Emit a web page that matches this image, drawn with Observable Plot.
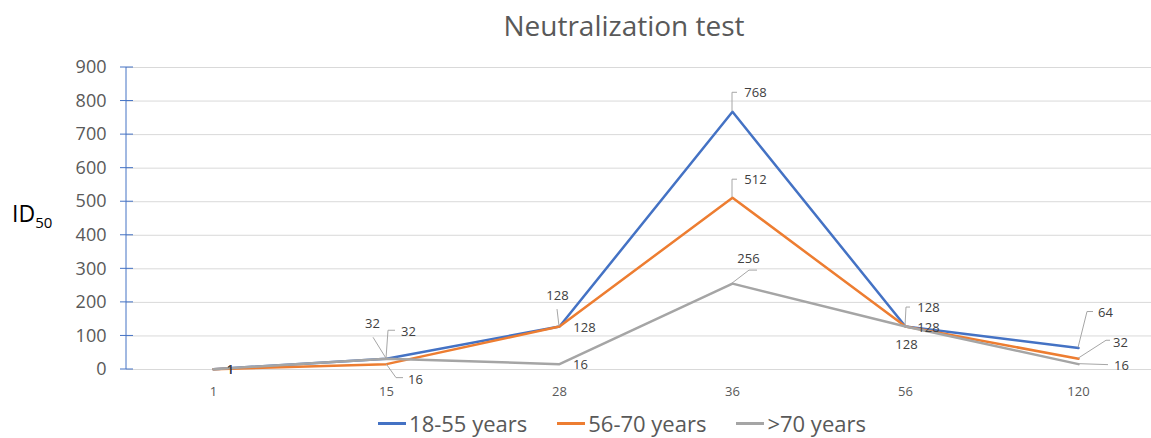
<!DOCTYPE html>
<html><head><meta charset="utf-8">
<script src="https://cdn.jsdelivr.net/npm/d3@7"></script>
<script src="https://cdn.jsdelivr.net/npm/@observablehq/plot@0.6"></script>
<style>
body{margin:0;background:#fff;font-family:"Open Sans",sans-serif;}
#wrap{position:relative;width:1151px;height:438px;overflow:hidden;background:#fff;}
#title{position:absolute;top:7px;left:0;width:1248px;text-align:center;font-size:28px;color:#595959;line-height:36px;z-index:2;}
#ylab{position:absolute;left:12px;top:199px;font-size:23px;color:#000;line-height:28px;z-index:2;}
#ylab sub{font-size:15px;vertical-align:-6px;line-height:0;}
#chart{position:absolute;top:50px;left:0;z-index:1;}
#legend{position:absolute;top:410px;left:0;width:1244px;display:flex;justify-content:center;gap:30px;font-size:22px;color:#595959;line-height:26px;z-index:2;}
#legend .item{display:flex;align-items:center;}
#legend .sw{display:inline-block;width:28px;height:3px;margin-right:3px;}
</style></head><body>
<div id="wrap">
  <div id="title">Neutralization test</div>
  <div id="ylab">ID<sub>50</sub></div>
  <div id="chart"></div>
  <div id="legend"></div>
</div>
<script>
// ---- data ----
const days = ["1", "15", "28", "36", "56", "120"];
const seriesNames = ["18-55 years", "56-70 years", ">70 years"];
const age18to55 = [1, 32, 128, 768, 128, 64];
const age56to70 = [1, 16, 128, 512, 128, 32];
const ageOver70 = [1, 32, 16, 256, 128, 16];
const yTicks = [0, 100, 200, 300, 400, 500, 600, 700, 800, 900];

// ---- styles ----
const seriesColors = ["#4472C4", "#ED7D31", "#A5A5A5"];
// pixel offsets of the data labels from their points, and leader lines (style only)
const labelPlacement = [
  [ {dx:17,dy:1}, {dx:-14,dy:-35,lead:[[0,0],[-13,-21]]}, {dx:-2,dy:-31,lead:[[0,0],[-2,-17]]},
    {dx:23,dy:-19,lead:[[0,0],[0,-19],[5,-19]]}, {dx:23,dy:-19,lead:[[0,0],[1,-19],[5,-19]]},
    {dx:27,dy:-35,lead:[[0,0],[9,-36],[15,-36]]} ],
  [ {dx:17,dy:1}, {dx:29,dy:16,lead:[[0,0],[10,14],[17,14]]}, {dx:25,dy:1},
    {dx:23,dy:-18,lead:[[0,0],[0,-18],[5,-18]]}, {dx:23,dy:1},
    {dx:42,dy:-16,lead:[[0,0],[28,-18],[32,-18]]} ],
  [ {dx:17,dy:1}, {dx:22,dy:-27,lead:[[0,0],[2,-28],[9,-28]]}, {dx:21,dy:1},
    {dx:16,dy:-25,lead:[[0,0],[17,-13],[25,-13]]}, {dx:1,dy:18},
    {dx:43,dy:2,lead:[[0,0],[30,1]]} ]
];

const seriesValues = [age18to55, age56to70, ageOver70];
const rows = seriesNames.flatMap((s, i) => days.map((d, j) => ({
  series: s, day: d, value: seriesValues[i][j], place: labelPlacement[i][j]
})));

function axisLine(index, scales, values, dims) {
  const {marginLeft, marginTop, height, marginBottom} = dims;
  const g = d3.create("svg:g").attr("stroke", "#4472C4").attr("stroke-width", 1);
  g.append("line").attr("x1", marginLeft).attr("x2", marginLeft)
    .attr("y1", marginTop).attr("y2", height - marginBottom);
  for (const t of yTicks) {
    const y = scales.y(t);
    g.append("line").attr("x1", marginLeft - 6).attr("x2", marginLeft + 7).attr("y1", y).attr("y2", y);
  }
  return g.node();
}

function leaders(index, scales) {
  const g = d3.create("svg:g").attr("fill", "none").attr("stroke", "#A6A6A6").attr("stroke-width", 1);
  for (const r of rows) {
    if (!r.place.lead) continue;
    const px = scales.x(r.day), py = scales.y(r.value);
    g.append("polyline").attr("points", r.place.lead.map(([a, b]) => `${px + a},${py + b}`).join(" "));
  }
  return g.node();
}

const labelMarks = rows.map(r => Plot.text([r], {
  x: "day", y: "value", text: d => String(d.value),
  dx: r.place.dx, dy: r.place.dy, fontSize: 13, fill: "#404040"
}));

const chart = Plot.plot({
  width: 1151, height: 355,
  marginLeft: 126, marginRight: -14, marginTop: 17, marginBottom: 36,
  style: {fontFamily: "'Open Sans', sans-serif", background: "transparent"},
  x: {type: "point", domain: days, padding: 0.5, label: null},
  y: {domain: [0, 900], label: null},
  color: {domain: seriesNames, range: seriesColors},
  marks: [
    Plot.gridY(yTicks, {stroke: "#D9D9D9", strokeOpacity: 1, strokeWidth: 1}),
    Plot.axisY(yTicks, {tickSize: 0, tickPadding: 20, fontSize: 18, fill: "#595959", label: null}),
    Plot.axisX({tickSize: 0, tickPadding: 17, fontSize: 13, fill: "#595959", label: null}),
    axisLine,
    Plot.line(rows, {x: "day", y: "value", z: "series", stroke: "series", strokeWidth: 2.5}),
    leaders,
    ...labelMarks
  ]
});
document.getElementById("chart").appendChild(chart);

const legend = d3.select("#legend");
seriesNames.forEach((s, i) => {
  const it = legend.append("div").attr("class", "item");
  it.append("span").attr("class", "sw").style("background", seriesColors[i]);
  it.append("span").text(s);
});
</script>
</body></html>
